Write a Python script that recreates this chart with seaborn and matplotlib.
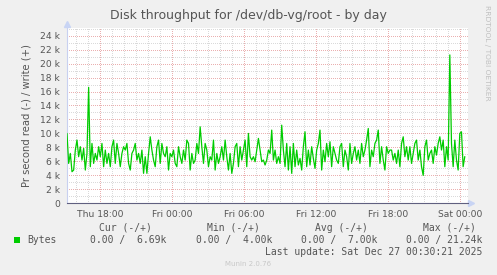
import numpy as np
import pandas as pd
import matplotlib
matplotlib.use("Agg")
import matplotlib.pyplot as plt
import matplotlib.dates as mdates
from matplotlib.ticker import MultipleLocator, FuncFormatter
from matplotlib.patches import Rectangle
import seaborn as sns

# ---------------- data (thousands of bytes per second, write +) ----------------
write_k = [
    10.0, 5.71, 7.14, 4.52, 4.76, 7.62, 9.05, 6.67, 8.10, 6.19,
    7.86, 4.76, 7.14, 16.6, 5.24, 8.57, 5.71, 7.14, 6.19, 8.10,
    6.67, 8.57, 5.24, 7.62, 5.71, 7.14, 5.24, 8.10, 9.05, 5.71,
    8.57, 7.14, 5.24, 7.14, 8.10, 7.62, 8.57, 5.71, 4.76, 7.14,
    7.62, 8.57, 6.19, 7.14, 5.71, 7.62, 4.29, 6.67, 4.29, 7.14,
    9.52, 7.62, 6.19, 5.24, 8.10, 9.05, 5.71, 8.57, 7.14, 6.67,
    8.10, 4.76, 7.14, 6.67, 7.62, 5.71, 5.24, 8.10, 6.67, 5.71,
    7.62, 6.19, 9.05, 8.57, 4.76, 7.14, 5.71, 6.19, 8.57, 7.14,
    10.95, 8.10, 5.71, 8.57, 7.62, 5.24, 6.67, 6.19, 9.05, 4.76,
    7.14, 5.71, 6.67, 8.10, 6.19, 9.05, 6.67, 4.76, 7.14, 4.29,
    5.71, 8.10, 8.57, 5.24, 8.10, 6.19, 7.62, 9.05, 5.24, 10.0,
    6.67,
    6.19, 6.67, 5.95, 7.62, 9.29, 7.62, 5.95, 6.19, 5.48, 6.19,
    7.62, 7.14, 10.48, 6.19, 7.62, 5.71, 6.67, 5.71, 11.19, 7.62,
    5.24, 8.57, 4.76, 8.10, 4.29, 8.57, 5.24, 7.62, 5.48, 6.43,
    4.76, 8.10, 10.24, 5.24, 7.62, 5.48, 8.10, 6.43, 5.00, 7.62,
    8.57, 10.48, 4.76, 7.62, 5.95, 8.57, 6.67, 8.81, 5.24, 8.10,
    7.14, 6.19, 5.71, 8.10, 8.57, 5.24, 7.62, 6.67, 4.76, 8.57,
    5.71, 7.14, 8.10, 6.19, 7.62, 5.71, 8.57, 6.67, 7.62, 9.05,
    10.71, 5.24, 7.62, 6.67, 8.57, 9.05, 10.48, 5.71, 8.10, 6.19,
    4.76, 8.10, 7.14, 7.62, 7.62, 6.19, 7.14, 5.71, 7.62, 5.24,
    8.57, 9.52, 6.67, 8.10, 6.19, 8.10, 5.71, 7.14, 8.57, 9.05,
    6.19, 7.62, 5.24, 4.00, 8.10, 9.05, 6.19, 7.14, 7.62, 5.71,
    8.10, 6.90, 8.57, 9.52, 7.62, 9.05, 5.24, 8.10, 6.19, 21.24,
    8.57, 5.24, 9.05, 6.19, 4.76, 10.0, 10.24, 5.24, 6.69,
]
start_time = "2025-12-25 15:13:20"
sample_seconds = 500
view_start = "2025-12-25 15:13:20"
view_end = "2025-12-27 00:40:00"

title = "Disk throughput for /dev/db-vg/root - by day"
y_label = "Pr second read (-) / write (+)"
legend_name = "Bytes"
legend_headers = ["Cur (-/+)", "Min (-/+)", "Avg (-/+)", "Max (-/+)"]
legend_values = ["0.00 /  6.69k", "0.00 /  4.00k", "0.00 /  7.00k", "0.00 / 21.24k"]
last_update = "Last update: Sat Dec 27 00:30:21 2025"
footer = "Munin 2.0.76"
side_text = "RRDTOOL / TOBI OETIKER"

df = pd.DataFrame({
    "time": pd.date_range(start_time, periods=len(write_k), freq=f"{sample_seconds}s"),
    "write": write_k,
})

# ---------------- figure ----------------
sns.set_theme(style="white")
plt.rcParams["font.family"] = ["DejaVu Sans"]
W, H = 497, 275
fig = plt.figure(figsize=(W / 100, H / 100), dpi=100, facecolor="#f0f0f0")
ax = fig.add_axes([67 / W, 1 - 203.3 / H, 400.8 / W, 175 / H])
ax.set_facecolor("white")

sns.lineplot(data=df, x="time", y="write", ax=ax, color="#00cc00", lw=0.9, zorder=5)

ax.set_xlim(pd.Timestamp(view_start), pd.Timestamp(view_end))
ax.set_ylim(0, 25.05)

ax.yaxis.set_major_locator(MultipleLocator(2))
ax.yaxis.set_minor_locator(MultipleLocator(1))
ax.yaxis.set_major_formatter(FuncFormatter(lambda v, p: "0" if v == 0 else f"{int(v)} k"))
ax.xaxis.set_major_locator(mdates.HourLocator(byhour=[0, 6, 12, 18]))
ax.xaxis.set_minor_locator(mdates.HourLocator())
ax.xaxis.set_major_formatter(mdates.DateFormatter("%a %H:%M"))

ax.grid(which="minor", color="#dadada", ls=(0, (1, 1.6)), lw=0.72, zorder=1, antialiased=False)
ax.grid(which="major", color="#eab0b0", ls=(0, (1, 1.6)), lw=0.72, zorder=2, antialiased=False)
ax.set_axisbelow(True)

ax.tick_params(axis="both", which="both", length=0, labelsize=6.6, labelcolor="#555555")
ax.tick_params(axis="y", pad=5)
ax.tick_params(axis="x", pad=5)
ax.set_xlabel("")
ax.set_ylabel(y_label, fontsize=7.2, color="#555555", labelpad=6)

for s in ["top", "right"]:
    ax.spines[s].set_visible(False)
ax.spines["left"].set_color("#c8d0f0")
ax.spines["left"].set_linewidth(0.8)
ax.spines["bottom"].set_color("#606080")
ax.spines["bottom"].set_linewidth(0.8)
ax.plot([0], [1.025], marker="^", ms=4, color="#c8d4f4", transform=ax.transAxes, clip_on=False)
ax.plot([1.008], [0], marker=">", ms=4, color="#c8d4f4", transform=ax.transAxes, clip_on=False)

def fx(x):
    return x / W

def fy(y):
    return 1 - y / H

fig.text(fx(248), fy(16), title, ha="center", va="center", fontsize=9, color="#555555")
fig.text(fx(487), fy(5), side_text, ha="center", va="top", rotation=270,
         fontsize=5.4, color="#c0c0c0")

mono = "DejaVu Sans Mono"
hdr_x = [125, 233, 341, 449]
for x, t in zip(hdr_x, legend_headers):
    fig.text(fx(x), fy(228), t, ha="center", va="center", fontsize=7, family=mono, color="#555555")
fig.patches.append(Rectangle((fx(14), fy(243)), 6 / W, 6 / H, transform=fig.transFigure,
                             facecolor="#00cc00", edgecolor="none"))
fig.text(fx(27), fy(240), legend_name, ha="left", va="center", fontsize=7, family=mono, color="#555555")
val_x = [166, 272, 377, 482]
for x, t in zip(val_x, legend_values):
    fig.text(fx(x), fy(240), t, ha="right", va="center", fontsize=7, family=mono, color="#555555")
fig.text(fx(482), fy(252), last_update, ha="right", va="center", fontsize=7, family=mono, color="#555555")
fig.text(fx(248), fy(264), footer, ha="center", va="center", fontsize=5, color="#c8c8c8")

fig.savefig("out.png", dpi=100, facecolor=fig.get_facecolor())
